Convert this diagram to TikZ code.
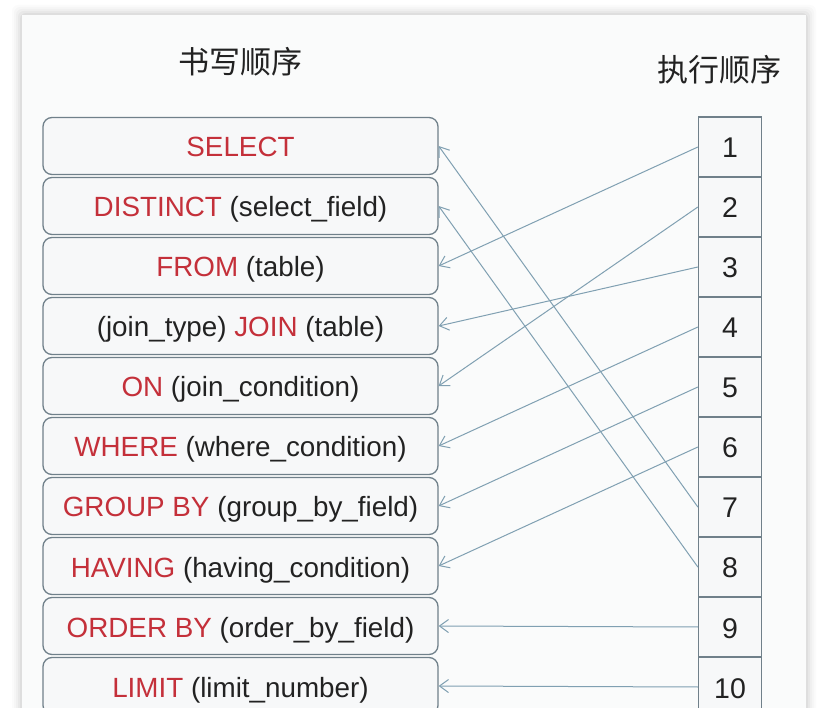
\documentclass[tikz,border=0pt]{standalone}
\usepackage{fontspec}
\setmainfont{Liberation Sans}
\newfontfamily\cjk{Noto Sans CJK SC}
\usetikzlibrary{arrows.meta}
\definecolor{kw}{RGB}{196,48,58}
\definecolor{tx}{RGB}{34,34,34}
\definecolor{bd}{RGB}{112,128,138}
\definecolor{ar}{RGB}{128,160,178}
\definecolor{bx}{RGB}{247,248,249}
\definecolor{pn}{RGB}{250,251,251}
\tikzset{
  sqlbox/.style={draw=bd, line width=1.3pt, fill=bx, rounded corners=9pt,
    minimum width=395pt, minimum height=57pt, inner sep=0pt, text=tx,
    text height=22pt, text depth=0pt,
    font=\fontsize{27.8}{30}\selectfont},
  numbox/.style={draw=bd, line width=1.3pt, fill=bx,
    minimum width=63pt, minimum height=60pt, inner sep=0pt, text=tx,
    text height=22pt, text depth=0pt,
    font=\fontsize{28.5}{30}\selectfont},
  title/.style={text=tx, font=\cjk\fontsize{31}{34}\selectfont, inner sep=0pt},
  flow/.style={draw=ar, line width=1pt, -{Straight Barb[length=9pt,width=13pt,line width=1pt]}}
}
\newcommand{\kwd}[1]{\textcolor{kw}{#1}}
\begin{document}
\begin{tikzpicture}[x=1pt,y=-1pt]
\useasboundingbox (0,0) rectangle (820,708);
\clip (0,0) rectangle (820,708);
\fill[white] (0,0) rectangle (820,708);
% panel with soft shadow
\foreach \i/\o in {10/0.015,8/0.02,6/0.025,4/0.03,2/0.04}{
  \fill[black,opacity=\o,rounded corners=6pt] (22-\i,15-\i) rectangle (806+\i,740);
}
\fill[pn] (22,15) rectangle (806,740);
% titles
\node[title] (t1) at (240,62) {书写顺序};
\node[title] (t2) at (719,70) {执行顺序};
% left boxes
\node[sqlbox] (L1) at (240.5,146) {\kwd{SELECT}};
\node[sqlbox] (L2) at (240.5,206) {\kwd{DISTINCT} (select\_field)};
\node[sqlbox] (L3) at (240.5,266) {\kwd{FROM} (table)};
\node[sqlbox] (L4) at (240.5,326) {(join\_type) \kwd{JOIN} (table)};
\node[sqlbox] (L5) at (240.5,386) {\kwd{ON} (join\_condition)};
\node[sqlbox] (L6) at (240.5,446) {\kwd{WHERE} (where\_condition)};
\node[sqlbox] (L7) at (240.5,506) {\kwd{GROUP BY} (group\_by\_field)};
\node[sqlbox] (L8) at (240.5,566) {\kwd{HAVING} (having\_condition)};
\node[sqlbox] (L9) at (240.5,626) {\kwd{ORDER BY} (order\_by\_field)};
\node[sqlbox] (L10) at (240.5,686) {\kwd{LIMIT} (limit\_number)};
% right boxes
\foreach \n in {1,...,10}{
  \node[numbox] (R\n) at (730,87+60*\n) {\n};
}
% connectors
\draw[flow] (R1.west) -- (L3.east);
\draw[flow] (R2.west) -- (L5.east);
\draw[flow] (R3.west) -- (L4.east);
\draw[flow] (R4.west) -- (L6.east);
\draw[flow] (R5.west) -- (L7.east);
\draw[flow] (R6.west) -- (L8.east);
\draw[flow] (R7.west) -- (L1.east);
\draw[flow] (R8.west) -- (L2.east);
\draw[flow] (R9.west) -- (L9.east);
\draw[flow] (R10.west) -- (L10.east);
\end{tikzpicture}
\end{document}
